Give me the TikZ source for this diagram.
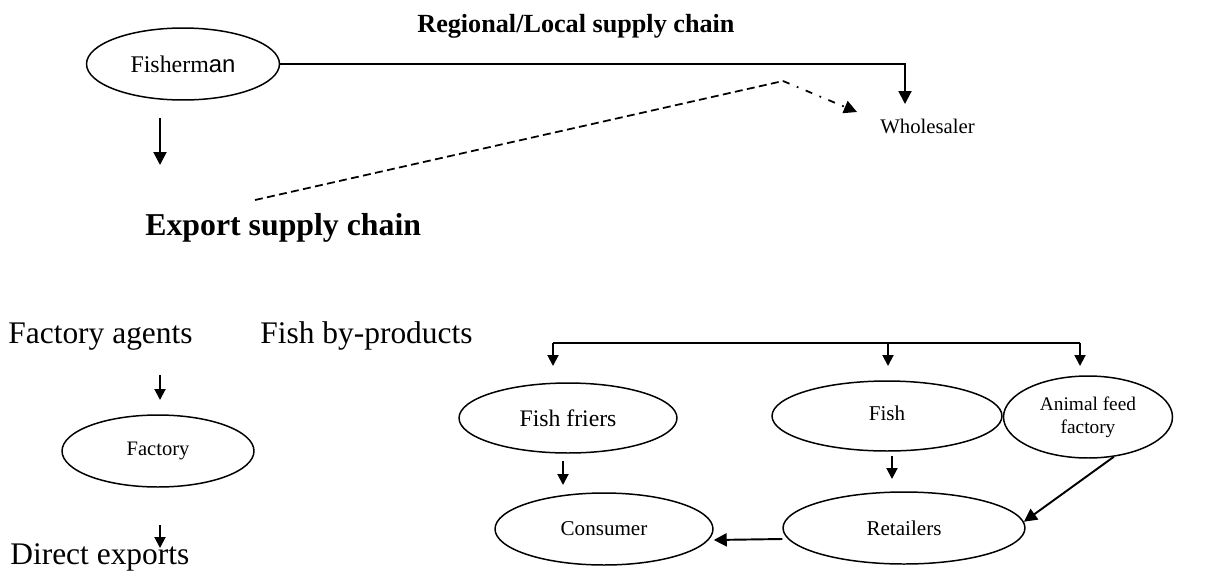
\documentclass[tikz,border=0pt]{standalone}
\usepackage{fontspec}
\setmainfont{Liberation Serif}
\newfontfamily\arialfont{Liberation Sans}
\usepackage{tikz}
\usetikzlibrary{arrows.meta,positioning,shapes.geometric}

\begin{document}
\begin{tikzpicture}[
    x=0.02cm, y=-0.02cm,
    oval/.style={
      ellipse, draw=black, line width=0.85pt,
      inner sep=0pt, align=center,
      font=\fontsize{12}{13}\selectfont,
    },
    label/.style={
      inner sep=0pt, anchor=base west,
      font=\fontsize{17.9}{21}\selectfont,
    },
    arr/.style={-{Triangle[length=0.26cm,width=0.26cm]}, line width=1.1pt},
    sarr/.style={-{Triangle[length=0.22cm,width=0.22cm]}, line width=1.1pt},
  ]
  \useasboundingbox (0,0) rectangle (1206,572);

  % Top tier: Fisherman and regional chain
  \node[oval, minimum width=3.86cm, minimum height=1.44cm,
        font=\fontsize{13.6}{15}\selectfont] (fisher) at (183,64)
        {Fisherm{\arialfont an}};
  \node[label, font=\fontsize{14.9}{17}\selectfont\bfseries] (regional) at (417,32)
        {Regional/Local supply chain};
  \node[label, font=\fontsize{11.8}{14}\selectfont] (whole) at (880,133) {Wholesaler};
  \node[label, font=\fontsize{18.1}{21}\selectfont\bfseries] (export) at (145,235)
        {Export supply chain};

  \coordinate (wtop)  at (905,104);
  \coordinate (fdown) at (160,118);
  \coordinate (fend)  at (160,165);
  \coordinate (dstart) at (255,200);
  \coordinate (dbend)  at (783,81);
  \coordinate (dtip)   at (857,112);

  \draw[arr] (fisher.east) -| (wtop);
  \draw[arr] (fdown) -- (fend);
  \draw[line width=1pt, dash pattern=on 4.5pt off 2.5pt] (dstart) -- (dbend);
  \draw[arr, line width=1pt, dash pattern=on 4pt off 4.5pt on 1pt off 4.5pt] (dbend) -- (dtip);

  % Middle tier: export side
  \node[label] (agents) at (8,343) {Factory agents};
  \node[label] (byprod) at (260,343) {Fish by-products};
  \node[oval, minimum width=3.84cm, minimum height=1.44cm,
        font=\fontsize{11.7}{13}\selectfont] (factory) at (158,451) {Factory};
  \node[label] (direct) at (10,564) {Direct exports};

  \coordinate (a1) at (160,375);
  \coordinate (a2) at (160,400);
  \coordinate (b1) at (160,525);
  \coordinate (b2) at (160,548);
  \draw[sarr] (a1) -- (a2);
  \draw[sarr] (b1) -- (b2);

  % Lower tier: by-products
  \node[oval, minimum width=4.36cm, minimum height=1.4cm,
        font=\fontsize{13.5}{15}\selectfont] (friers) at (568,418) {Fish friers};
  \node[oval, minimum width=4.6cm, minimum height=1.4cm] (fish) at (887,416)
        {\raisebox{3pt}{Fish}};
  \node[oval, minimum width=3.38cm, minimum height=1.64cm,
        font=\fontsize{11}{13}\selectfont] (feed) at (1088,417) {Animal feed\\factory};
  \node[oval, minimum width=4.36cm, minimum height=1.44cm] (consumer) at (604,529) {Consumer};
  \node[oval, minimum width=4.84cm, minimum height=1.44cm] (retail) at (904,528) {Retailers};

  \coordinate (brL) at (553,343);
  \coordinate (brM) at (888,343);
  \coordinate (brR) at (1080,343);
  \coordinate (tL) at (553,366);
  \coordinate (tM) at (888,366);
  \coordinate (tR) at (1080,366);
  \draw[line width=1.1pt] (brL) -- (brR);
  \draw[sarr] (brL) -- (tL);
  \draw[sarr] (brM) -- (tM);
  \draw[sarr] (brR) -- (tR);

  \coordinate (c1) at (563,461);
  \coordinate (c2) at (563,485);
  \coordinate (r1) at (892,456);
  \coordinate (r2) at (892,479);
  \draw[sarr] (c1) -- (c2);
  \draw[sarr] (r1) -- (r2);
  \draw[arr] ([yshift=-0.22cm]retail.west) -- ([yshift=-0.22cm]consumer.east);
  \draw[arr] (feed.-57) -- (retail.3);

\end{tikzpicture}
\end{document}
